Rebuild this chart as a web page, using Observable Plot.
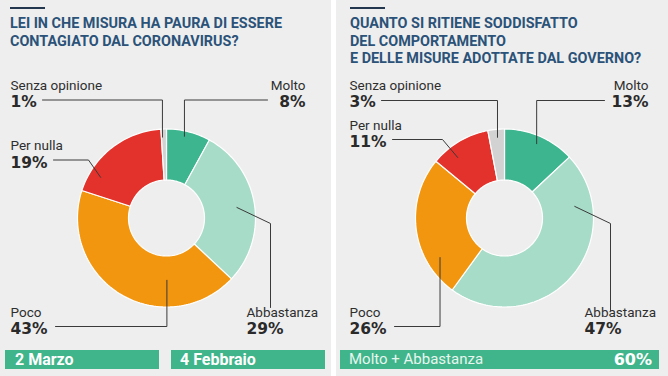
<!DOCTYPE html>
<html><head><meta charset="utf-8">
<script src="https://cdn.jsdelivr.net/npm/d3@7"></script>
<script src="https://cdn.jsdelivr.net/npm/@observablehq/plot@0.6"></script>
<style>
html,body{margin:0;padding:0}
body{background:#fff;width:668px;height:376px;overflow:hidden;position:relative;font-family:Roboto,"DejaVu Sans",sans-serif}
.panel{position:absolute;top:0;height:376px;background:#eeeeee;overflow:hidden}
.rule{position:absolute;top:7px;width:35px;height:2px;background:#23374f;z-index:3}
.tline{position:absolute;height:17px;font-family:Roboto,sans-serif;font-weight:bold;font-size:14.4px;line-height:17px;color:#2b5278;white-space:nowrap;z-index:2}
.plot{position:absolute;left:0;top:0;z-index:1;line-height:0}
.plot svg{display:block}
.bar{position:absolute;top:350px;height:19px;background:#40b48a;color:#fff;font-size:16px;line-height:19px;white-space:nowrap;box-sizing:border-box;z-index:2}
.bar b{font-weight:bold}
</style></head>
<body>
<div id="left" class="panel" style="left:0;width:331px"></div>
<div id="right" class="panel" style="left:336px;width:332px"></div>
<script>
// ---- data ----
const categories = ["Molto", "Abbastanza", "Poco", "Per nulla", "Senza opinione"];
const fearValues = [8, 29, 43, 19, 1];
const satisfactionValues = [13, 47, 26, 11, 3];
const sliceColors = ["#3db58e", "#a7dcc8", "#f2950f", "#e3312b", "#d2d2d2"];
const leftTitle = ["LEI IN CHE MISURA HA PAURA DI ESSERE", "CONTAGIATO DAL CORONAVIRUS?"];
const rightTitle = ["QUANTO SI RITIENE SODDISFATTO", "DEL COMPORTAMENTO", "E DELLE MISURE ADOTTATE DAL GOVERNO?"];
const leftFooter = ["2 Marzo", "4 Febbraio"];
const rightFooterLabel = "Molto + Abbastanza";

// ---- layout (positions only) ----
const leftLayout = {
  width: 331, cx: 166, cy: 217.5, R: 89, r0: 38,
  labels: {
    "Senza opinione": {x: 10, y: 85, anchor: "start"},
    "Molto": {x: 305, y: 85, anchor: "end"},
    "Per nulla": {x: 10, y: 145.5, anchor: "start"},
    "Poco": {x: 10, y: 312, anchor: "start"},
    "Abbastanza": {x: 246, y: 312, anchor: "start"}
  },
  leaders: {
    "Senza opinione": {type: "hv", sx: 42, sy: 99.5, t: 0.2, rf: 0.91},
    "Molto": {type: "hv", sx: 267, sy: 99.5, t: 0.43, rf: 0.94},
    "Per nulla": {type: "hd", sx: 53, sy: 159.5, ex: 88, t: 0.2, rf: 0.87},
    "Poco": {type: "hv", sx: 55, sy: 326, t: 0.30, rf: 0.70},
    "Abbastanza": {type: "dv", ex: 270, ey: 223, by: 307, t: 0.505, rf: 0.80}
  }
};
const rightLayout = {
  width: 332, cx: 168, cy: 217.5, R: 89, r0: 38,
  labels: {
    "Senza opinione": {x: 13, y: 85, anchor: "start"},
    "Molto": {x: 312, y: 85, anchor: "end"},
    "Per nulla": {x: 13, y: 125, anchor: "start"},
    "Poco": {x: 13, y: 312, anchor: "start"},
    "Abbastanza": {x: 248, y: 312, anchor: "start"}
  },
  leaders: {
    "Senza opinione": {type: "hv", sx: 45, sy: 100, t: 0.54, rf: 0.91},
    "Molto": {type: "hv", sx: 268, sy: 100, t: 0.50, rf: 0.91},
    "Per nulla": {type: "hd", sx: 56, sy: 139, ex: 106, t: 0.32, rf: 0.86},
    "Poco": {type: "hv", sx: 58, sy: 326, t: 0.24, rf: 0.85},
    "Abbastanza": {type: "dv", ex: 274, ey: 223, by: 310, t: 0.20, rf: 0.80}
  }
};

function slices(values) {
  const total = d3.sum(values);
  let acc = 0;
  return values.map((v, i) => {
    const a0 = acc / total * 2 * Math.PI; acc += v;
    const a1 = acc / total * 2 * Math.PI;
    return {cat: categories[i], value: v, a0, a1};
  });
}
function polar(L, a, r) { return [L.cx + r * Math.sin(a), L.cy - r * Math.cos(a)]; }
function ringPoints(s, L) {
  const n = Math.max(2, Math.ceil((s.a1 - s.a0) / (Math.PI / 120)));
  const pts = [];
  for (let k = 0; k <= n; k++) { const [x, y] = polar(L, s.a0 + (s.a1 - s.a0) * k / n, L.R); pts.push({cat: s.cat, x, y}); }
  for (let k = n; k >= 0; k--) { const [x, y] = polar(L, s.a0 + (s.a1 - s.a0) * k / n, L.r0); pts.push({cat: s.cat, x, y}); }
  pts.push({...pts[0]});
  return pts;
}
function leaderPoints(s, L) {
  const d = L.leaders[s.cat];
  const [x, y] = polar(L, s.a0 + (s.a1 - s.a0) * d.t, L.R * d.rf);
  let p;
  if (d.type === "hv") p = [[d.sx, d.sy], [x, d.sy], [x, y]];
  else if (d.type === "hd") p = [[d.sx, d.sy], [d.ex, d.sy], [x, y]];
  else p = [[x, y], [d.ex, d.ey], [d.ex, d.by]];
  return p.map(([px, py]) => ({id: s.cat, x: px, y: py}));
}

function donut(values, L) {
  const W = L.width, H = 376;
  const sl = slices(values);
  const ring = sl.flatMap(s => ringPoints(s, L));
  const leaders = sl.flatMap(s => leaderPoints(s, L));
  const rows = sl.map(s => ({...L.labels[s.cat], cat: s.cat, pct: s.value + "%"}));
  const textMarks = [];
  for (const anchor of ["start", "end"]) {
    const r = rows.filter(d => d.anchor === anchor);
    textMarks.push(Plot.text(r, {x: "x", y: "y", text: "cat", textAnchor: anchor, fontSize: 13.5, fontFamily: "Roboto, sans-serif", fill: "#2e2e2e"}));
    textMarks.push(Plot.text(r, {x: "x", y: d => d.y + 17, text: "pct", textAnchor: anchor, fontSize: 15.5, fontWeight: "bold", fontFamily: "DejaVu Sans, sans-serif", fill: "#2a2a2a"}));
  }
  return Plot.plot({
    width: W, height: H, margin: 0,
    x: {domain: [0, W], range: [0, W], axis: null},
    y: {domain: [0, H], range: [0, H], axis: null},
    color: {domain: categories, range: sliceColors},
    style: {background: "transparent"},
    marks: [
      Plot.line(ring, {x: "x", y: "y", z: "cat", fill: "cat", stroke: "#ffffff", strokeWidth: 1.2, curve: "linear"}),
      Plot.line(leaders, {x: "x", y: "y", z: "id", stroke: "#3a3a3a", strokeWidth: 1, curve: "linear"}),
      ...textMarks
    ]
  });
}

function build(panelId, titleLines, values, L, titleX) {
  const panel = document.getElementById(panelId);
  const plotDiv = document.createElement("div");
  plotDiv.className = "plot";
  plotDiv.appendChild(donut(values, L));
  panel.appendChild(plotDiv);
  const rule = document.createElement("div");
  rule.className = "rule"; rule.style.left = titleX + "px";
  panel.appendChild(rule);
  titleLines.forEach((line, i) => {
    const t = document.createElement("div");
    t.className = "tline";
    t.style.left = titleX + "px";
    t.style.top = (15 + i * 17.5) + "px";
    t.textContent = line;
    panel.appendChild(t);
  });
}
build("left", leftTitle, fearValues, leftLayout, 10);
build("right", rightTitle, satisfactionValues, rightLayout, 14);

// footers
const lp = document.getElementById("left");
[[5, leftFooter[0], 10], [171, leftFooter[1], 9]].forEach(([x, txt, pad]) => {
  const b = document.createElement("div");
  b.className = "bar"; b.style.left = x + "px"; b.style.width = "154px"; b.style.paddingLeft = pad + "px";
  b.innerHTML = "<b>" + txt + "</b>";
  lp.appendChild(b);
});
const rp = document.getElementById("right");
const rb = document.createElement("div");
rb.className = "bar"; rb.style.left = "4px"; rb.style.width = "319px"; rb.style.padding = "0 7px 0 9px";
rb.style.display = "flex"; rb.style.justifyContent = "space-between";
rb.innerHTML = '<span style="color:#e8f6ef;font-size:15px">' + rightFooterLabel + '</span><b style="font-family:\'DejaVu Sans\',sans-serif;font-size:16px">' + (satisfactionValues[0] + satisfactionValues[1]) + '%</b>';
rp.appendChild(rb);
</script>
</body></html>
